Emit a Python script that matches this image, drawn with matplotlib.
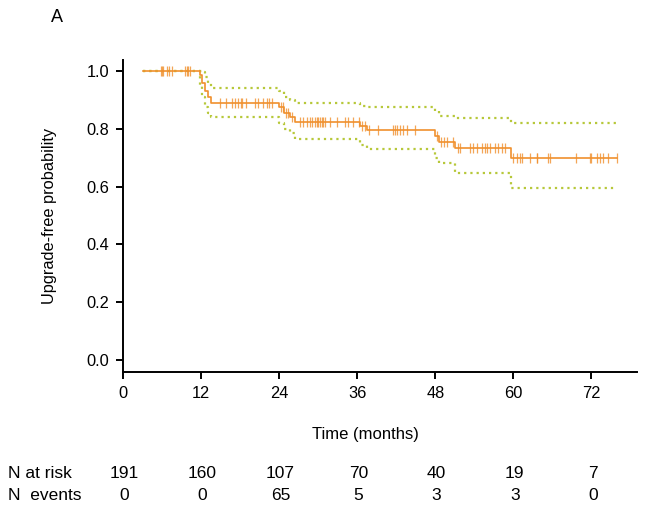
import matplotlib
matplotlib.use("Agg")
import matplotlib.pyplot as plt
import numpy as np

plt.rcParams["font.family"] = ["Liberation Sans", "DejaVu Sans"]

# Kaplan-Meier step curve (value after each time point)
km_times = [3.0, 11.8, 12.2, 12.6, 13.0, 13.6, 24.0, 24.8, 25.6, 26.4,
            36.5, 37.5, 47.9, 48.6, 51.0, 59.7, 75.9]
km_surv = [1.0, 0.985, 0.96, 0.93, 0.91, 0.889, 0.875, 0.855, 0.84, 0.823,
           0.81, 0.796, 0.775, 0.755, 0.735, 0.699, 0.699]
ci_upper = [1.0, 1.0, 0.995, 0.98, 0.96, 0.94, 0.93, 0.91, 0.90, 0.889,
            0.88, 0.875, 0.86, 0.845, 0.837, 0.82, 0.82]
ci_lower = [1.0, 0.95, 0.91, 0.875, 0.855, 0.841, 0.82, 0.80, 0.785, 0.763,
            0.745, 0.73, 0.70, 0.68, 0.648, 0.595, 0.595]

# censored observations (months)
censor_times = [5.8, 6.0, 6.1, 6.7, 7.1, 7.5, 9.5, 9.8, 10.0, 10.3,
                14.9, 15.8, 16.7, 17.2, 17.7, 18.2, 18.3, 18.9, 20.3, 20.7,
                21.5, 22.1, 22.4, 22.9, 24.3, 24.6, 25.1, 25.4, 26.0,
                27.2, 27.6, 28.3, 28.7, 29.0, 29.5, 29.8, 30.0, 30.3, 30.6,
                30.7, 31.0, 31.8, 32.9, 34.1, 34.6, 35.3, 36.2, 36.8, 37.2,
                37.8, 39.2, 41.5, 41.8, 42.1, 42.5, 43.0, 43.6, 44.9,
                48.3, 48.9, 49.4, 49.8, 50.7, 51.5, 51.8, 53.3, 53.8, 54.4,
                55.1, 55.6, 55.9, 56.4, 57.1, 57.6, 58.2, 58.7,
                59.9, 60.5, 61.0, 61.4, 62.5, 63.6, 63.7, 65.3, 65.6, 69.7,
                71.7, 72.0, 72.8, 73.3, 73.7, 74.5, 75.9]

risk_times = [0, 12, 24, 36, 48, 60, 72]
n_at_risk = [191, 160, 107, 70, 40, 19, 7]
n_events = [0, 0, 65, 5, 3, 3, 0]

orange = "#F0902E"
green = "#B7C83A"

fig = plt.figure(figsize=(6.45, 5.14), dpi=100)
ax = fig.add_axes([0.1907, 0.2763, 0.7969, 0.6070])

ax.step(km_times, ci_upper, where="post", color=green, lw=1.6, ls=(0, (1, 1.8)))
ax.step(km_times, ci_lower, where="post", color=green, lw=1.6, ls=(0, (1, 1.8)))
ax.step(km_times, km_surv, where="post", color=orange, lw=1.2)

# censor marks sit on the curve
idx = np.searchsorted(km_times, censor_times, side="right") - 1
cens_y = np.array(km_surv)[idx]
ax.plot(censor_times, cens_y, ls="none", marker="|", ms=7, mew=0.9,
        color=orange, alpha=0.8)

ax.set_xlim(0, 79)
ax.set_ylim(-0.042, 1.038)
ax.set_xticks(risk_times)
ax.set_yticks([0.0, 0.2, 0.4, 0.6, 0.8, 1.0])
ax.set_yticklabels(["0.0", "0.2", "0.4", "0.6", "0.8", "1.0"])
ax.tick_params(labelsize=11.8, length=5, width=1.4, pad=5)
for s in ["top", "right"]:
    ax.spines[s].set_visible(False)
for s in ["left", "bottom"]:
    ax.spines[s].set_linewidth(1.4)

ax.set_ylabel("Upgrade-free probability", fontsize=11.8, labelpad=21)
fig.text(365 / 645, 1 - 435 / 514, "Time (months)", ha="center", va="center",
         fontsize=12)
fig.text(57 / 645, 1 - 18 / 514, "A", ha="center", va="center", fontsize=13)

# risk table
y1 = 1 - 474 / 514
y2 = 1 - 496 / 514
fig.text(8 / 645, y1, "N at risk", ha="left", va="center", fontsize=12.5)
fig.text(8 / 645, y2, "N  events", ha="left", va="center", fontsize=12.5)
for t, r, e in zip(risk_times, n_at_risk, n_events):
    xf = ax.transData.transform((t + 0.2, 0))[0] / fig.bbox.width
    fig.text(xf, y1, str(r), ha="center", va="center", fontsize=12.5)
    fig.text(xf, y2, str(e), ha="center", va="center", fontsize=12.5)

fig.savefig("out.png", dpi=100)
